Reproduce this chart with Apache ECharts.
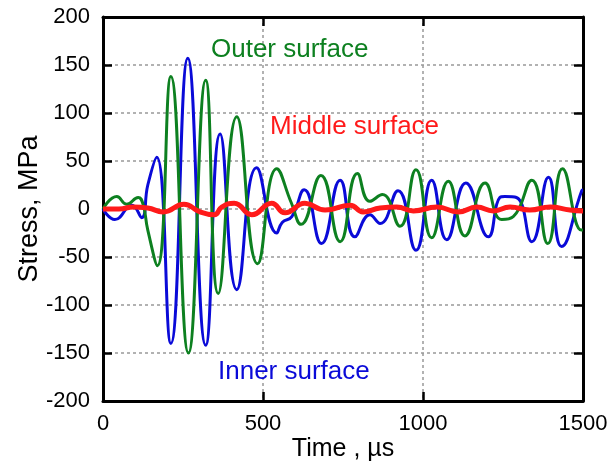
<!DOCTYPE html>
<html><head><meta charset="utf-8">
<script src="https://cdn.jsdelivr.net/npm/echarts@6/dist/echarts.min.js"></script>
<style>html,body{margin:0;padding:0;background:#fff}#c{width:613px;height:467px}</style>
</head><body><div id="c"></div>
<script>
// ---- data (time in µs, stress in MPa) ----
const xTicks = [0, 500, 1000, 1500];
const yTicks = [-200, -150, -100, -50, 0, 50, 100, 150, 200];

const innerT = [0, 37, 90, 121, 140, 168, 212, 265, 321, 366, 418, 480, 543, 560, 590, 629, 683, 741, 787, 834, 866, 922, 978, 1027, 1074, 1134, 1204, 1240, 1256, 1292, 1340, 1392, 1433, 1496, 1500];
const innerV = [0, -11, 4, -9, 25, 54, -140, 157, -142, 78, -84, 43, -25, -14, -8, 20, -36, 30, -29, -6, -15, 19, -43, 30, -32, 27, -29, 12, 13, 12, -34, 33, -39, 19, 20];

const outerT = [0, 43, 74, 110, 125, 140, 170, 212, 267, 321, 360, 418, 483, 543, 589, 619, 681, 741, 795, 834, 873, 928, 978, 1027, 1079, 1131, 1194, 1246, 1282, 1340, 1390, 1436, 1495, 1500];
const outerV = [0, 13, 5, 12, 5, -22, -59, 138, -150, 134, -88, 96, -57, 42, 6, -16, 35, -34, 37, 8, 15, -18, 41, -30, 29, -28, 27, -11, -8, 30, -36, 42, -22, -22];

const middleT = [0, 50, 95, 140, 188, 253, 303, 348, 371, 410, 465, 527, 569, 631, 694, 772, 813, 866, 918, 970, 1043, 1111, 1168, 1220, 1272, 1334, 1397, 1459, 1500];
const middleV = [0, 0, 2, 1, -3, 5, -3, -6, 2, 6, -6, 6, -4, 6, -1, 4, -3, 1, 2, -2, 2, -3, 2, -2, 2, -1, 2, -1, -2];

const seriesNames = ['Inner surface', 'Outer surface', 'Middle surface'];
const xTitle = 'Time , µs';
const yTitle = 'Stress, MPa';

// ---- chart ----
const GREEN = '#0d8020', BLUE = '#0a0ad8', RED = '#ff1a1a';
const FONT = 'Liberation Sans, Arial, Helvetica, sans-serif';
const zip = (t, v) => t.map((x, i) => [x, v[i]]);

const baseAxis = {
  type: 'value',
  axisLine: { show: true, onZero: false, lineStyle: { color: '#000', width: 3 } },
  axisTick: { show: true, inside: true, length: 9, lineStyle: { color: '#000', width: 2.5 } },
  splitLine: { show: false },
  axisLabel: { show: false }
};

const chart = echarts.init(document.getElementById('c'), null, { renderer: 'canvas' });
chart.setOption({
  animation: false,
  backgroundColor: '#fff',
  textStyle: { fontFamily: FONT },
  grid: { left: 103, right: 30, top: 17, bottom: 66, containLabel: false },
  xAxis: [
    Object.assign({}, baseAxis, {
      position: 'bottom', min: xTicks[0], max: xTicks[xTicks.length - 1], interval: xTicks[1] - xTicks[0],
      splitLine: { show: true, lineStyle: { color: '#999', width: 1.5, type: [3, 3] } },
      axisLabel: { show: true, color: '#000', fontSize: 22, margin: 12, fontFamily: FONT, formatter: v => String(v) },
      name: xTitle, nameLocation: 'middle', nameGap: 36, nameMoveOverlap: false,
      nameTextStyle: { color: '#000', fontSize: 25, fontFamily: FONT }
    }),
    Object.assign({}, baseAxis, {
      position: 'top', min: xTicks[0], max: xTicks[xTicks.length - 1], interval: xTicks[1] - xTicks[0]
    })
  ],
  yAxis: [
    Object.assign({}, baseAxis, {
      position: 'left', min: yTicks[0], max: yTicks[yTicks.length - 1], interval: yTicks[1] - yTicks[0],
      splitLine: { show: true, lineStyle: { color: '#999', width: 1.5, type: [3, 3] } },
      axisLabel: { show: true, color: '#000', fontSize: 22, margin: 13, fontFamily: FONT, formatter: v => String(v) },
      name: yTitle, nameLocation: 'middle', nameGap: 60, nameMoveOverlap: false,
      nameTextStyle: { color: '#000', fontSize: 27, fontFamily: FONT }
    }),
    Object.assign({}, baseAxis, {
      position: 'right', min: yTicks[0], max: yTicks[yTicks.length - 1], interval: yTicks[1] - yTicks[0]
    })
  ],
  series: [
    { name: seriesNames[0], type: 'line', data: zip(innerT, innerV), smooth: 0.5, showSymbol: false,
      lineStyle: { color: BLUE, width: 3 }, z: 2 },
    { name: seriesNames[1], type: 'line', data: zip(outerT, outerV), smooth: 0.5, showSymbol: false,
      lineStyle: { color: GREEN, width: 3 }, z: 3 },
    { name: seriesNames[2], type: 'line', data: zip(middleT, middleV), smooth: 0.5, showSymbol: false,
      lineStyle: { color: RED, width: 5 }, z: 4 }
  ],
  graphic: [
    { type: 'text', x: 211, y: 50, z: 10, style: { text: seriesNames[1], fill: GREEN, font: '26px ' + FONT, verticalAlign: 'middle' } },
    { type: 'text', x: 270, y: 127, z: 10, style: { text: seriesNames[2], fill: RED, font: '26px ' + FONT, verticalAlign: 'middle' } },
    { type: 'text', x: 218, y: 372, z: 10, style: { text: seriesNames[0], fill: BLUE, font: '26px ' + FONT, verticalAlign: 'middle' } }
  ]
});
</script></body></html>
